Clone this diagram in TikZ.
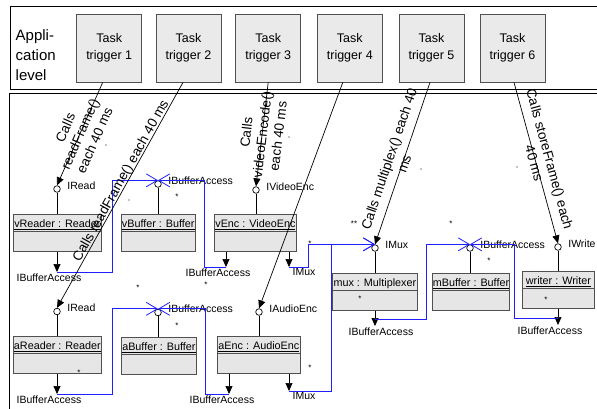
\documentclass[tikz,border=0pt]{standalone}
\usepackage{fontspec}
\setmainfont{Liberation Sans}
\usetikzlibrary{arrows.meta,positioning}
\definecolor{TrigGray}{HTML}{EAEAEA}
\definecolor{CompGray}{HTML}{E6E6E6}
\definecolor{EdgeGray}{HTML}{505050}
\definecolor{LinkBlue}{HTML}{1F1FFF}

\begin{document}
\begin{tikzpicture}[x=1pt, y=-1pt,
  trigger/.style={draw=EdgeGray, fill=TrigGray, line width=0.8pt, minimum width=65pt, minimum height=68pt, inner sep=0pt, align=center, font=\fontsize{12.5}{16.5}\selectfont},
  comp/.style={draw=EdgeGray, fill=CompGray, line width=0.8pt, minimum height=37pt, inner xsep=0.5pt, inner ysep=3pt, text height=10pt, text depth=21pt, font=\fontsize{10.8}{12}\selectfont},
  lolli/.style={circle, draw, fill=white, line width=0.7pt, minimum size=6.6pt, inner sep=0pt},
  iflabel/.style={inner sep=1pt, font=\fontsize{10.5}{12}\selectfont},
  call/.style={draw, line width=0.7pt, -{Triangle[length=8pt,width=7pt]}},
  req/.style={draw, line width=0.7pt, -{Triangle[length=8pt,width=7pt]}},
  conn/.style={draw=LinkBlue, line width=0.8pt, -{Straight Barb[length=11pt,width=13pt]}},
  calltext/.style={sloped, inner sep=1pt, align=center, font=\fontsize{13.5}{16}\selectfont},
  stray/.style={inner sep=0pt, font=\fontsize{8}{8}\selectfont}
]
\useasboundingbox (0,0) rectangle (597,408);

% Panels
\draw[line width=0.8pt] (600,6) -- (10,6) -- (10,89) -- (600,89);
\draw[line width=0.8pt] (600,93) -- (9,93) -- (9,410);
\node[anchor=north west, inner sep=0pt, align=left, font=\fontsize{15}{20}\selectfont] (applevel) at (15.5,29.3) {Appli-\\cation\\level};

% Task triggers
\foreach \i/\x in {1/109.2, 2/188.5, 3/268.2, 4/349.8, 5/431.5, 6/512.5}
  \node[trigger] (t\i) at (\x,48) {Task\\trigger \i};

% Components - name, left, top, width
\foreach \n/\xa/\ya/\w/\txt in {
  vReader/13/214/88/vReader : Reader,
  vBuffer/121/214/73/vBuffer : Buffer,
  vEnc/214/214/82/vEnc : VideoEnc,
  aReader/13/336/88/aReader : Reader,
  aBuffer/121/337/75/aBuffer : Buffer,
  aEnc/217/336/83/aEnc : AudioEnc,
  mux/332/273/85/mux : Multiplexer,
  mBuffer/432/273/77/mBuffer : Buffer,
  writer/522/271/72/writer : Writer}
{
  \node[comp, minimum width=\w pt, anchor=north west] (\n) at (\xa,\ya) {\underline{\txt}};
  \draw[draw=EdgeGray, line width=0.8pt] ([yshift=-17pt]\n.north west) -- ([yshift=-17pt]\n.north east);
}

% Provided interfaces (lollipops)
\foreach \n/\x/\y/\cmp/\lab in {
  vRdIf/57/189/vReader/IRead,
  vBufIf/158/184/vBuffer/IBufferAccess,
  vEncIf/256/190/vEnc/IVideoEnc,
  aRdIf/57/311.5/aReader/IRead,
  aBufIf/158/312.5/aBuffer/IBufferAccess,
  aEncIf/259/312/aEnc/IAudioEnc,
  muxIf/375/248/mux/IMux,
  mBufIf/470/248/mBuffer/IBufferAccess,
  wrIf/558/247/writer/IWrite}
{
  \node[lolli] (\n) at (\x,\y) {};
  \draw[line width=0.7pt] (\n) -- (\n |- \cmp.north);
  \node[iflabel, right=5.5pt of \n, yshift=3.5pt] (\n-l) {\lab};
}

% Required interfaces
\foreach \n/\x/\y/\cmp/\lab/\dx in {
  vRdReq/57/272/vReader/IBufferAccess/-8,
  vEncReqB/226/267/vEnc/IBufferAccess/-8,
  vEncReqM/289/267/vEnc/IMux/15,
  aRdReq/57/394/aReader/IBufferAccess/-8,
  aEncReqB/229/394/aEnc/IBufferAccess/-7,
  aEncReqM/289/391/aEnc/IMux/15,
  muxReq/375/326/mux/IBufferAccess/6,
  wrReq/558/325/writer/IBufferAccess/-8}
{
  \coordinate (\n) at (\x,\y);
  \draw[req] (\n |- \cmp.south) -- (\n);
  \node[iflabel, below=0.5pt of \n, xshift=\dx pt] (\n-l) {\lab};
}

% Assembly connectors
\draw[conn] (vRdReq) -- ++(55,0) |- (vBufIf.north);
\draw[conn] (vEncReqB) -- ++(-22,0) |- (vBufIf.north);
\draw[conn] (vEncReqM) -- ++(19,0) |- (muxIf.north);
\draw[conn] (aEncReqM) -- ++(42,0) |- (muxIf.north);
\draw[conn] (aRdReq) -- ++(55,0) |- (aBufIf.north);
\draw[conn] (aEncReqB) -- ++(-24,0) |- (aBufIf.north);
\draw[conn] ([yshift=7pt]muxReq) -- ++(51,0) |- (mBufIf.north);
\draw[conn] ([yshift=7pt]wrReq) -- ++(-44,0) |- (mBufIf.north);

% Calls from the task triggers
\draw[call] ([xshift=-6.5pt]t1.south) -- node[calltext] {Calls\\readFrame()\\each 40 ms} (vRdIf.north);
\draw[call] ([xshift=-5.5pt]t2.south) -- node[calltext, pos=0.45, above=-2pt] {Calls readFrame() each 40 ms} (aRdIf.north);
\draw[call] (t3.south) -- node[calltext] {Calls\\videoEncode()\\each 40 ms} (vEncIf.north);
\draw[call] ([xshift=-7pt]t4.south) -- (aEncIf.north);
\draw[call] ([xshift=-1.5pt]t5.south) -- node[calltext, above=-8pt] {Calls multiplex() each 40\\ms} (muxIf.north);
\draw[call] ([xshift=1.5pt]t6.south) -- node[calltext, above=-8pt] {Calls storeFrame() each\\40 ms} (wrIf.north);

% Stray marks
\foreach \sx/\sy [count=\k] in {106/145, 129/200, 289/137, 421/169, 517/167}
  \fill (\sx,\sy) circle (0.6pt);
\foreach \sx/\sy/\s [count=\k] in {177/197/*, 138/288/*, 206/285/*, 177/326/*, 79/373/*, 451/224/*, 354/224/**, 310/244/*, 489/261/*, 360/299/*, 546/300/*, 310/368/*}
  \node[stray] (star\k) at (\sx,\sy) {\s};
\end{tikzpicture}
\end{document}
